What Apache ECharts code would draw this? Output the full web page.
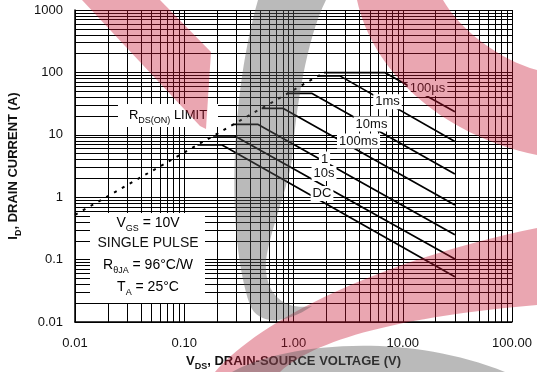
<!DOCTYPE html>
<html>
<head>
<meta charset="utf-8">
<script src="https://cdn.jsdelivr.net/npm/echarts@6/dist/echarts.min.js"></script>
<style>
  html, body { margin: 0; padding: 0; background: #fff; }
  #chart { width: 537px; height: 372px; }
</style>
</head>
<body>
<div id="chart"></div>
<script>
// Tick labels for the two logarithmic axes
const xTickLabels = ['0.01', '0.10', '1.00', '10.00', '100.00'];
const yTickLabels = ['0.01', '0.1', '1', '10', '100', '1000'];

// Safe operating area boundaries: [V_DS (V), I_D (A)]
const rdsOnLimit = [[0.01, 0.52], [1.9, 99]];
const soa100us = [[1.9, 99], [6.9, 99], [30, 23.4]];
const soa1ms   = [[1.7, 88], [2.66, 88], [30, 7.8]];
const soa10ms  = [[0.89, 46], [1.48, 46], [30, 2.36]];
const soa100ms = [[0.51, 26.6], [0.80, 26.6], [30, 0.75]];
const soa1s    = [[0.28, 14.7], [0.47, 14.7], [30, 0.25]];
const soa10s   = [[0.184, 9.6], [0.29, 9.6], [30, 0.102]];
const soaDC    = [[0.132, 6.9], [0.22, 6.9], [30, 0.053]];

const FONT = 'Liberation Sans, Arial, sans-serif';
const INK = '#111';

// 2..9 gridlines inside every decade
function decadeSubdivisions(fromExp, toExp) {
  const out = [];
  for (let e = fromExp; e < toExp; e++) {
    for (let k = 2; k <= 9; k++) out.push(+(k * Math.pow(10, e)).toPrecision(6));
  }
  return out;
}

const minorX = decadeSubdivisions(-2, 2).map(v => ({ xAxis: v }));
const minorY = decadeSubdivisions(-2, 3).map(v => ({ yAxis: v }));

function boundary(name, data) {
  return {
    name, type: 'line', data, symbol: 'none', silent: true, z: 5,
    lineStyle: { color: '#000', width: 1.7 },
    animation: false
  };
}

// translucent logo shapes drawn over the page (pixel paths)
const watermarkRed = 'rgba(200,20,50,0.38)';
const watermarkGray = 'rgba(90,90,90,0.42)';
const logoShapes = [
  { d: 'M82,0 L160,0 L211,52 L206,129 L200,126 Z', fill: watermarkRed },
  { d: 'M357,0 C372,70 440,135 537,155 L537,70 C500,60 460,30 443,0 Z', fill: watermarkRed },
  { d: 'M215,372 C260,320 380,260 537,228 L537,305 C420,315 320,335 280,372 Z', fill: watermarkRed },
  { d: 'M258,0 C232,90 225,230 250,305 C258,325 285,325 312,306 C290,310 268,300 266,270 C264,245 285,200 292,160 C296,110 306,40 326,0 Z', fill: watermarkGray },
  { d: 'M232,372 C280,345 400,330 505,372 Z', fill: watermarkGray }
];

const series = [
  {
    type: 'line', data: [], silent: true, animation: false,
    markLine: {
      silent: true, symbol: ['none', 'none'], animation: false,
      label: { show: false },
      lineStyle: { color: '#000', width: 1, type: 'solid' },
      data: minorX.concat(minorY)
    }
  },
  {
    name: 'RDS(ON) limit', type: 'line', data: rdsOnLimit, symbol: 'none', silent: true, z: 5,
    lineStyle: { color: '#000', width: 2, type: [3, 6] }, animation: false
  },
  boundary('100µs', soa100us),
  boundary('1ms', soa1ms),
  boundary('10ms', soa10ms),
  boundary('100ms', soa100ms),
  boundary('1', soa1s),
  boundary('10s', soa10s),
  boundary('DC', soaDC),
  {
    type: 'custom', silent: true, z: 100, animation: false,
    coordinateSystem: 'none',
    data: [0],
    renderItem: () => ({
      type: 'group',
      children: logoShapes.map(s => ({
        type: 'path', shape: { pathData: s.d }, style: { fill: s.fill }
      }))
    })
  }
];

const subRich = {
  m: { fontSize: 13, fontFamily: FONT, color: INK, lineHeight: 16 },
  s: { fontSize: 9, fontFamily: FONT, color: INK, lineHeight: 16, verticalAlign: 'bottom', padding: [0, 0, -2, 0] }
};
const subRich14 = { m: Object.assign({}, subRich.m, { fontSize: 14 }), s: subRich.s };

function label(text, cx, cy) {
  return {
    type: 'text', z: 60, x: cx, y: cy,
    style: {
      text, font: '13px ' + FONT, fill: INK, align: 'center', verticalAlign: 'middle',
      backgroundColor: '#fff', padding: [1, 2, 1, 2]
    }
  };
}

const graphic = [
  // white panels behind the annotations
  { type: 'rect', z: 55, shape: { x: 118, y: 104, width: 100, height: 23 }, style: { fill: '#fff' } },
  { type: 'rect', z: 55, shape: { x: 90, y: 213, width: 115, height: 90 }, style: { fill: '#fff' } },
  {
    type: 'text', z: 60, x: 168, y: 115,
    style: { text: '{m|R}{s|DS(ON)}{m| LIMIT}', rich: subRich, align: 'center', verticalAlign: 'middle' }
  },
  label('100µs', 427.5, 88.5),
  label('1ms', 387.5, 101.7),
  label('10ms', 371.5, 124),
  label('100ms', 358.5, 141),
  label('1', 324.5, 159),
  label('10s', 324, 173.5),
  label('DC', 322, 193.5),
  {
    type: 'text', z: 60, x: 148, y: 223,
    style: { text: '{m|V}{s|GS}{m| = 10V}', rich: subRich14, align: 'center', verticalAlign: 'middle' }
  },
  {
    type: 'text', z: 60, x: 148, y: 243.5,
    style: { text: 'SINGLE PULSE', font: '14px ' + FONT, fill: INK, align: 'center', verticalAlign: 'middle' }
  },
  {
    type: 'text', z: 60, x: 148, y: 265,
    style: { text: '{m|R}{s|θJA}{m| = 96°C/W}', rich: subRich14, align: 'center', verticalAlign: 'middle' }
  },
  {
    type: 'text', z: 60, x: 148, y: 287,
    style: { text: '{m|T}{s|A}{m| = 25°C}', rich: subRich14, align: 'center', verticalAlign: 'middle' }
  }
];

const titleRich = {
  b: { fontSize: 13, fontWeight: 'bold', fontFamily: FONT, color: INK, lineHeight: 16 },
  bs: { fontSize: 9, fontWeight: 'bold', fontFamily: FONT, color: INK, lineHeight: 16, verticalAlign: 'bottom', padding: [0, 0, -2, 0] }
};

const chart = echarts.init(document.getElementById('chart'), null, { renderer: 'canvas' });
chart.setOption({
  animation: false,
  backgroundColor: '#fff',
  grid: { left: 75, right: 25, top: 10, bottom: 50, containLabel: false, outerBoundsMode: 'none' },
  xAxis: {
    type: 'log', logBase: 10, min: 0.01, max: 100,
    name: '{b|V}{bs|DS}{b|, DRAIN-SOURCE VOLTAGE (V)}',
    nameLocation: 'middle', nameGap: 31,
    nameTextStyle: { rich: titleRich },
    axisLine: { show: true, lineStyle: { color: '#000', width: 1.5 } },
    axisTick: { show: false },
    splitLine: { show: true, lineStyle: { color: '#000', width: 1 } },
    axisLabel: {
      margin: 15, fontSize: 13, fontFamily: FONT, color: INK,
      formatter: v => xTickLabels[Math.round(Math.log10(v)) + 2]
    }
  },
  yAxis: {
    type: 'log', logBase: 10, min: 0.01, max: 1000,
    name: '{b|I}{bs|D}{b|, DRAIN CURRENT (A)}',
    nameLocation: 'middle', nameGap: 54, nameRotate: 90,
    nameTextStyle: { rich: titleRich },
    axisLine: { show: true, lineStyle: { color: '#000', width: 1.5 } },
    axisTick: { show: false },
    splitLine: { show: true, lineStyle: { color: '#000', width: 1 } },
    axisLabel: {
      margin: 12, fontSize: 13, fontFamily: FONT, color: INK,
      formatter: v => yTickLabels[Math.round(Math.log10(v)) + 2]
    }
  },
  series,
  graphic
});
</script>
</body>
</html>
